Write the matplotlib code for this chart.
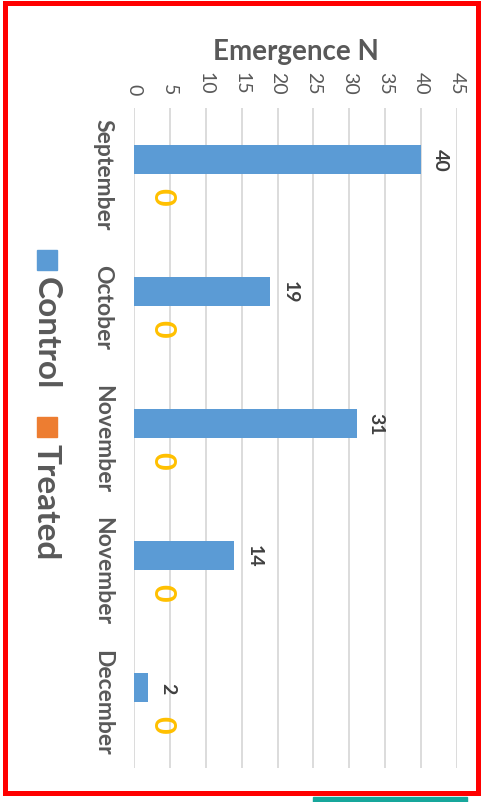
import matplotlib
matplotlib.use('Agg')
import matplotlib.pyplot as plt
from matplotlib.patches import Rectangle
import numpy as np

# emergence counts per month
months = ['September', 'October', 'November', 'November', 'December']
control = [40, 19, 31, 14, 2]
treated = [0, 0, 0, 0, 0]
series = ['Control', 'Treated']
x_ticks = [0, 5, 10, 15, 20, 25, 30, 35, 40, 45]

plt.rcParams['font.family'] = ['Lato', 'DejaVu Sans']
gray = '#595959'
blue = '#5B9BD5'
orange = '#ED7D31'
W, H = 483, 803

fig = plt.figure(figsize=(W / 100, H / 100), dpi=100)
ax = fig.add_axes([134 / W, 1 - 769 / H, (457 - 134) / W, (769 - 109) / H])

y = np.arange(len(months))
h = 0.22
ax.barh(y - h / 2, control, height=h, color=blue, zorder=2)
ax.barh(y + h / 2, treated, height=h, color=orange, zorder=2)

for yi, v in zip(y, control):
    ax.annotate(str(v), xy=(v, yi - h / 2), xytext=(14, 0), textcoords='offset points',
                rotation=-90, ha='center', va='center', fontsize=14,
                fontweight='bold', color='#404040')
for yi, v in zip(y, treated):
    ax.annotate(str(v), xy=(v, yi + h / 2), xytext=(20, -5), textcoords='offset points',
                rotation=-90, ha='center', va='center', fontsize=22,
                fontweight='bold', color='#FFC000')

ax.set_xlim(0, 45)
ax.set_ylim(len(months) - 0.5, -0.5)
ax.set_xticks(x_ticks)
ax.xaxis.tick_top()
ax.tick_params(axis='x', length=0, pad=10, labelsize=14, labelcolor=gray, labelrotation=-90)
ax.set_yticks(y)
ax.set_yticklabels(months, rotation=-90, fontsize=16.5, fontweight='bold', color=gray, va='center')
ax.tick_params(axis='y', length=0, pad=15)
ax.xaxis.grid(True, color='#D9D9D9', lw=1.3, zorder=0)
ax.set_axisbelow(True)
for s in ax.spines.values():
    s.set_visible(False)

fig.text(296 / W, 1 - 52 / H, 'Emergence N', ha='center', va='center',
         fontsize=20, fontweight='bold', color=gray)

# legend drawn by hand, rotated like the rest
for name, col, top in zip(series, [blue, orange], [251, 418]):
    fig.patches.append(Rectangle((37 / W, 1 - (top + 20) / H), 20 / W, 20 / H,
                                 transform=fig.transFigure, color=col))
    fig.text(46 / W, 1 - (top + 26) / H, name, rotation=-90, ha='center', va='top',
             fontsize=24, fontweight='bold', color=gray)

fig.patches.append(Rectangle((5 / W, 1 - 793.5 / H), 472.5 / W, 790 / H, fill=False,
                             ec='#FF0000', lw=3.6, transform=fig.transFigure))
fig.patches.append(Rectangle((313 / W, 0), 154 / W, 5 / H, color='#17A79C',
                             transform=fig.transFigure))

fig.savefig('out.png', dpi=100)
